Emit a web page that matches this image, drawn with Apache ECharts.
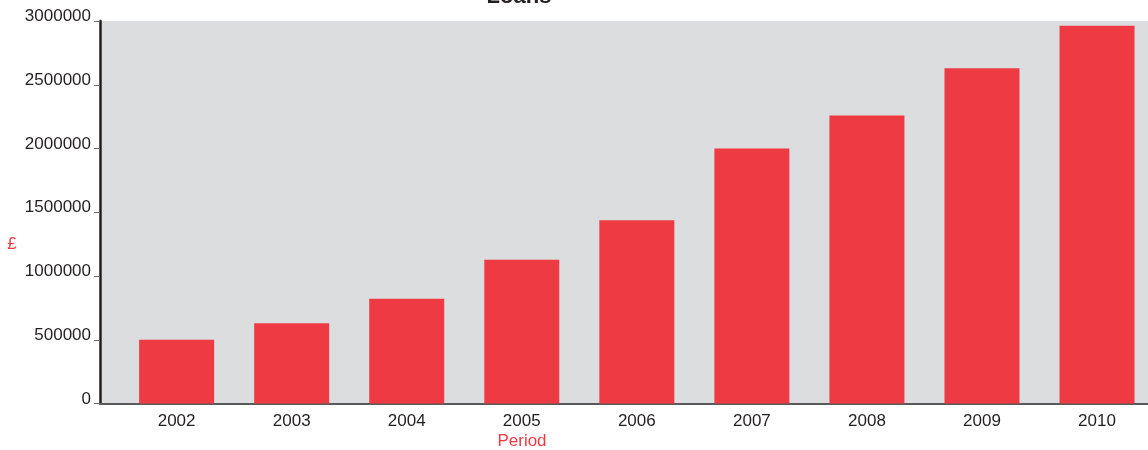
<!DOCTYPE html>
<html>
<head>
<meta charset="utf-8">
<script src="https://cdn.jsdelivr.net/npm/echarts@6/dist/echarts.min.js"></script>
<style>
  html, body { margin: 0; padding: 0; background: #ffffff; }
  #chart { width: 1148px; height: 450px; }
</style>
</head>
<body>
<div id="chart"></div>
<script>
// Loans per period, in pounds
const years = ['2002', '2003', '2004', '2005', '2006', '2007', '2008', '2009', '2010'];
const loans = [500000, 630000, 822000, 1127000, 1437000, 2000000, 2258000, 2630000, 2963000];
const yTicks = [0, 500000, 1000000, 1500000, 2000000, 2500000, 3000000];

const RED = '#ee3a43';
const INK = '#231f20';
const FONT = '"Liberation Sans", Arial, Helvetica, sans-serif';

const chart = echarts.init(document.getElementById('chart'), null, { renderer: 'canvas' });

chart.setOption({
  animation: false,
  backgroundColor: '#ffffff',
  title: [
    {
      text: 'Loans',
      left: 519, top: -14, textAlign: 'center', padding: 0,
      textStyle: { fontFamily: FONT, fontSize: 22, fontWeight: 'bold', color: INK }
    },
    {
      text: 'Period',
      left: 522, top: 433, textAlign: 'center', padding: 0,
      textStyle: { fontFamily: FONT, fontSize: 17, fontWeight: 'normal', color: RED }
    },
    {
      text: '£',
      left: 12, top: 236, textAlign: 'center', padding: 0,
      textStyle: { fontFamily: FONT, fontSize: 17, fontWeight: 'normal', color: RED }
    }
  ],
  grid: {
    left: 100, right: 0, top: 21, bottom: 46.5,
    show: true, backgroundColor: '#dcdddf', borderWidth: 0,
    containLabel: false
  },
  xAxis: {
    type: 'value',
    min: -0.666, max: 8.443,
    splitLine: { show: false },
    axisLine: { show: true, onZero: false, lineStyle: { color: '#5a5a5a', width: 2 } },
    axisTick: { show: false },
    axisLabel: {
      customValues: years.map((_, i) => i),
      formatter: (v) => years[Math.round(v)],
      color: INK, fontFamily: FONT, fontSize: 17, margin: 9
    }
  },
  yAxis: {
    type: 'value',
    min: 0, max: 3000000, interval: 500000,
    splitLine: { show: false },
    axisLine: { show: true, onZero: false, lineStyle: { color: INK, width: 2.5 } },
    axisTick: { show: true, length: 6, lineStyle: { color: '#6b6b6b', width: 1 } },
    axisLabel: {
      customValues: yTicks,
      formatter: (v) => String(v),
      color: INK, fontFamily: FONT, fontSize: 17, margin: 9,
      verticalAlign: 'bottom', lineHeight: 9
    }
  },
  series: [{
    type: 'bar',
    data: loans.map((v, i) => [i, v]),
    barWidth: 75,
    itemStyle: { color: RED },
    silent: true
  }]
});
</script>
</body>
</html>
